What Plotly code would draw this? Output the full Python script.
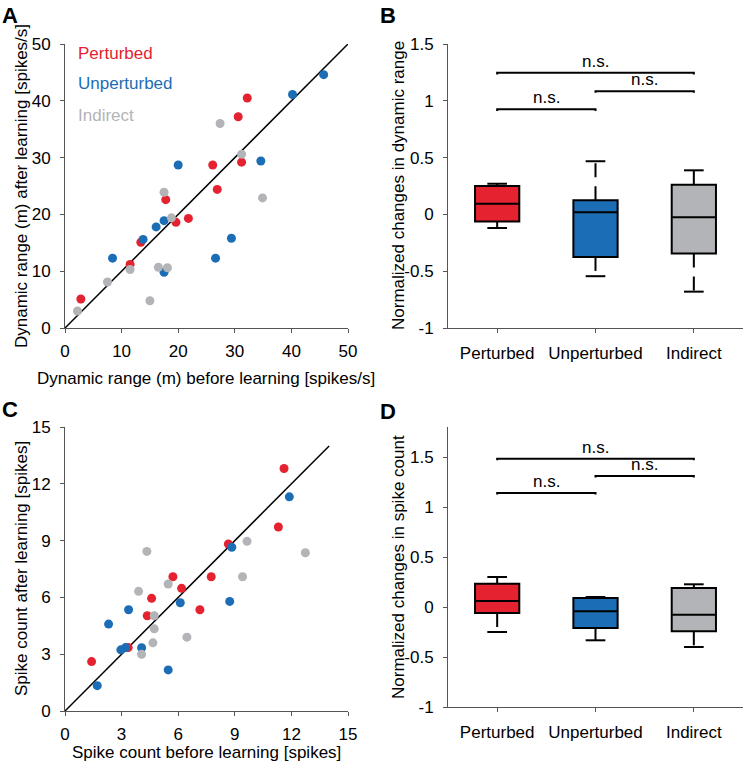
"""
Learning effects on dynamic range and spike count: scatter and box panels.
"""

import plotly.graph_objects as go

W, H = 743, 763

RED = '#E52330'
BLUE = '#1B6DB5'
GRAY = '#B3B4B7'
AXIS = '#555555'
FONT = 'Liberation Sans, Arial, sans-serif'

groups = ['Perturbed', 'Unperturbed', 'Indirect']
group_colors = [RED, BLUE, GRAY]

# Panel A: dynamic range before / after learning [spikes/s]
dr_pert_before = [2.8, 11.5, 13.4, 17.8, 19.6, 21.8, 26.1, 26.9, 30.6, 31.2, 32.2]
dr_pert_after = [5.1, 11.2, 15.1, 22.6, 18.6, 19.3, 28.7, 24.4, 37.2, 29.2, 40.5]
dr_unpert_before = [8.4, 13.8, 16.1, 17.5, 17.5, 20.0, 26.6, 29.4, 34.6, 40.2, 45.7]
dr_unpert_after = [12.3, 15.6, 17.8, 18.9, 9.8, 28.7, 12.3, 15.8, 29.4, 41.1, 44.6]
dr_ind_before = [2.2, 7.5, 11.5, 15.0, 16.5, 18.1, 17.5, 18.8, 27.4, 31.2, 34.9]
dr_ind_after = [3.0, 8.1, 10.3, 4.8, 10.7, 10.6, 23.9, 19.4, 36.0, 30.6, 22.9]

# Panel C: spike count before / after learning [spikes]
sc_pert_before = [1.41, 3.35, 4.36, 4.59, 5.72, 6.18, 7.15, 7.75, 8.66, 11.31, 11.61]
sc_pert_after = [2.61, 3.35, 5.03, 5.95, 7.09, 6.48, 5.35, 7.09, 8.82, 9.72, 12.81]
sc_unpert_before = [1.71, 2.31, 2.96, 3.21, 3.37, 4.06, 5.47, 6.11, 8.73, 8.84, 11.89]
sc_unpert_after = [1.34, 4.59, 3.23, 3.35, 5.35, 3.34, 2.17, 5.72, 5.79, 8.65, 11.31]
sc_ind_before = [3.90, 4.06, 4.34, 4.66, 4.73, 4.73, 5.47, 6.46, 9.41, 9.65, 12.74]
sc_ind_after = [6.32, 3.00, 8.43, 3.60, 4.34, 5.03, 6.71, 3.90, 7.09, 8.96, 8.36]

# Panel B: normalized changes in dynamic range (box statistics)
dr_lower = [-0.12, -0.544, -0.68]
dr_q1 = [-0.062, -0.374, -0.344]
dr_median = [0.094, 0.02, -0.024]
dr_q3 = [0.25, 0.124, 0.262]
dr_upper = [0.27, 0.468, 0.388]
dr_sig_y = [0.926, 1.085, 1.247]

# Panel D: normalized changes in spike count (box statistics)
sc_lower = [-0.25, -0.333, -0.40]
sc_q1 = [-0.06, -0.21, -0.243]
sc_median = [0.06, -0.043, -0.077]
sc_q3 = [0.233, 0.09, 0.19]
sc_upper = [0.30, 0.10, 0.227]
sc_sig_y = [1.14, 1.31, 1.483]

sig_pairs = [(1, 2), (2, 3), (1, 3)]

dr_ticks = [0, 10, 20, 30, 40, 50]
sc_ticks = [0, 3, 6, 9, 12, 15]
change_ticks = [-1, -0.5, 0, 0.5, 1, 1.5]
change_labels = ['-1', '-0.5', '0', '0.5', '1', '1.5']


def px_dom(a, b, total):
    return [a / total, b / total]


def py_dom(top, bottom):
    return [1 - bottom / H, 1 - top / H]


fig = go.Figure()


def add_scatter_panel(xa, ya, series, diag_max):
    fig.add_trace(go.Scatter(
        x=[0, diag_max], y=[0, diag_max], mode='lines',
        line=dict(color='black', width=1.5),
        xaxis=xa, yaxis=ya, showlegend=False, hoverinfo='skip'
    ))
    for (xs, ys), color in zip(series, group_colors):
        fig.add_trace(go.Scatter(
            x=xs, y=ys, mode='markers',
            marker=dict(color=color, size=9, line=dict(width=0)),
            xaxis=xa, yaxis=ya, showlegend=False, cliponaxis=False
        ))


def add_box_panel(xa, ya, lower, q1, med, q3, upper, sig_y):
    for i, color in enumerate(group_colors):
        c = i + 1
        fig.add_trace(go.Box(
            x=[c], q1=[q1[i]], median=[med[i]], q3=[q3[i]],
            lowerfence=[q1[i]], upperfence=[q3[i]],
            width=0.45, whiskerwidth=0,
            fillcolor=color, line=dict(color='black', width=2),
            xaxis=xa, yaxis=ya, showlegend=False
        ))
        # dashed whiskers, drawn outward from the box edge
        for start, end in [(q3[i], upper[i]), (q1[i], lower[i])]:
            fig.add_trace(go.Scatter(
                x=[c, c], y=[start, end], mode='lines',
                line=dict(color='black', width=2, dash='14px,9px'),
                xaxis=xa, yaxis=ya, showlegend=False, hoverinfo='skip'
            ))
            fig.add_trace(go.Scatter(
                x=[c - 0.1, c + 0.1], y=[end, end], mode='lines',
                line=dict(color='black', width=2),
                xaxis=xa, yaxis=ya, showlegend=False, hoverinfo='skip'
            ))
    for (a, b), y in zip(sig_pairs, sig_y):
        fig.add_trace(go.Scatter(
            x=[a, a, b, b], y=[y - 0.015, y, y, y - 0.015], mode='lines',
            line=dict(color='black', width=2),
            xaxis=xa, yaxis=ya, showlegend=False, hoverinfo='skip'
        ))
        fig.add_annotation(
            x=(a + b) / 2, y=y, xref=xa, yref=ya, text='n.s.',
            showarrow=False, yanchor='bottom', yshift=0,
            font=dict(size=17, color='black', family=FONT)
        )


add_scatter_panel('x', 'y', [(dr_pert_before, dr_pert_after),
                             (dr_unpert_before, dr_unpert_after),
                             (dr_ind_before, dr_ind_after)], 50)
add_box_panel('x2', 'y2', dr_lower, dr_q1, dr_median, dr_q3, dr_upper, dr_sig_y)
add_scatter_panel('x3', 'y3', [(sc_pert_before, sc_pert_after),
                               (sc_unpert_before, sc_unpert_after),
                               (sc_ind_before, sc_ind_after)], 14)
add_box_panel('x4', 'y4', sc_lower, sc_q1, sc_median, sc_q3, sc_upper, sc_sig_y)

axis_common = dict(
    showgrid=False, zeroline=False, showline=True, linecolor=AXIS, linewidth=1,
    ticks='outside', ticklen=4, tickcolor=AXIS, automargin=False,
    tickfont=dict(size=17, color='black', family=FONT),
)

fig.update_layout(
    width=W, height=H,
    margin=dict(l=0, r=0, t=0, b=0, autoexpand=False),
    paper_bgcolor='white', plot_bgcolor='white',
    font=dict(family=FONT, color='black'),
    showlegend=False,
    xaxis=dict(axis_common, domain=px_dom(65, 348, W), range=[0, 50],
               tickvals=dr_ticks, anchor='y', ticklabelstandoff=4),
    yaxis=dict(axis_common, domain=py_dom(44, 328), range=[0, 50],
               tickvals=dr_ticks, anchor='x', ticklabelstandoff=6),
    xaxis2=dict(axis_common, domain=px_dom(448, 743, W), range=[0.5, 3.5],
                tickvals=[1, 2, 3], ticktext=groups, anchor='y2', ticklabelstandoff=6),
    yaxis2=dict(axis_common, domain=py_dom(44, 328), range=[-1, 1.5],
                tickvals=change_ticks, ticktext=change_labels, anchor='x2',
                ticklabelstandoff=6),
    xaxis3=dict(axis_common, domain=px_dom(65, 348, W), range=[0, 15],
                tickvals=sc_ticks, anchor='y3', ticklabelstandoff=4),
    yaxis3=dict(axis_common, domain=py_dom(427, 711), range=[0, 15],
                tickvals=sc_ticks, anchor='x3', ticklabelstandoff=6),
    xaxis4=dict(axis_common, domain=px_dom(448, 743, W), range=[0.5, 3.5],
                tickvals=[1, 2, 3], ticktext=groups, anchor='y4', ticklabelstandoff=6),
    yaxis4=dict(axis_common, domain=py_dom(427, 707), range=[-1, 1.8],
                tickvals=change_ticks, ticktext=change_labels, anchor='x4',
                ticklabelstandoff=6),
)

# in-plot group labels for panel A
for label, color, y in zip(groups, group_colors, [48.4, 43.0, 37.4]):
    fig.add_annotation(
        x=2.0, y=y, xref='x', yref='y', text=label, showarrow=False,
        xanchor='left', yanchor='middle',
        font=dict(size=17, color=color, family=FONT)
    )

# axis titles
titles = [
    ('Dynamic range (m) before learning [spikes/s]', 206, 379, 0),
    ('Dynamic range (m) after learning [spikes/s]', 21, 186, -90),
    ('Normalized changes in dynamic range', 398, 186, -90),
    ('Spike count before learning [spikes]', 206, 752, 0),
    ('Spike count after learning [spikes]', 21, 569, -90),
    ('Normalized changes in spike count', 398, 567, -90),
]
for text, x, y, angle in titles:
    fig.add_annotation(
        x=x / W, y=1 - y / H, xref='paper', yref='paper', text=text,
        showarrow=False, textangle=angle, xanchor='center', yanchor='middle',
        font=dict(size=17, color='black', family=FONT)
    )

# panel letters
for letter, x, y in [('A', 0, 15), ('B', 378, 15), ('C', 0, 409), ('D', 378, 411)]:
    fig.add_annotation(
        x=x / W, y=1 - y / H, xref='paper', yref='paper', text='<b>%s</b>' % letter,
        showarrow=False, xanchor='left', yanchor='middle',
        font=dict(size=22, color='black', family=FONT)
    )

# the page's default body margin would push the figure off the window
fig.write_html('out.html', config={'displayModeBar': False},
               post_script="document.body.style.margin='0';")
